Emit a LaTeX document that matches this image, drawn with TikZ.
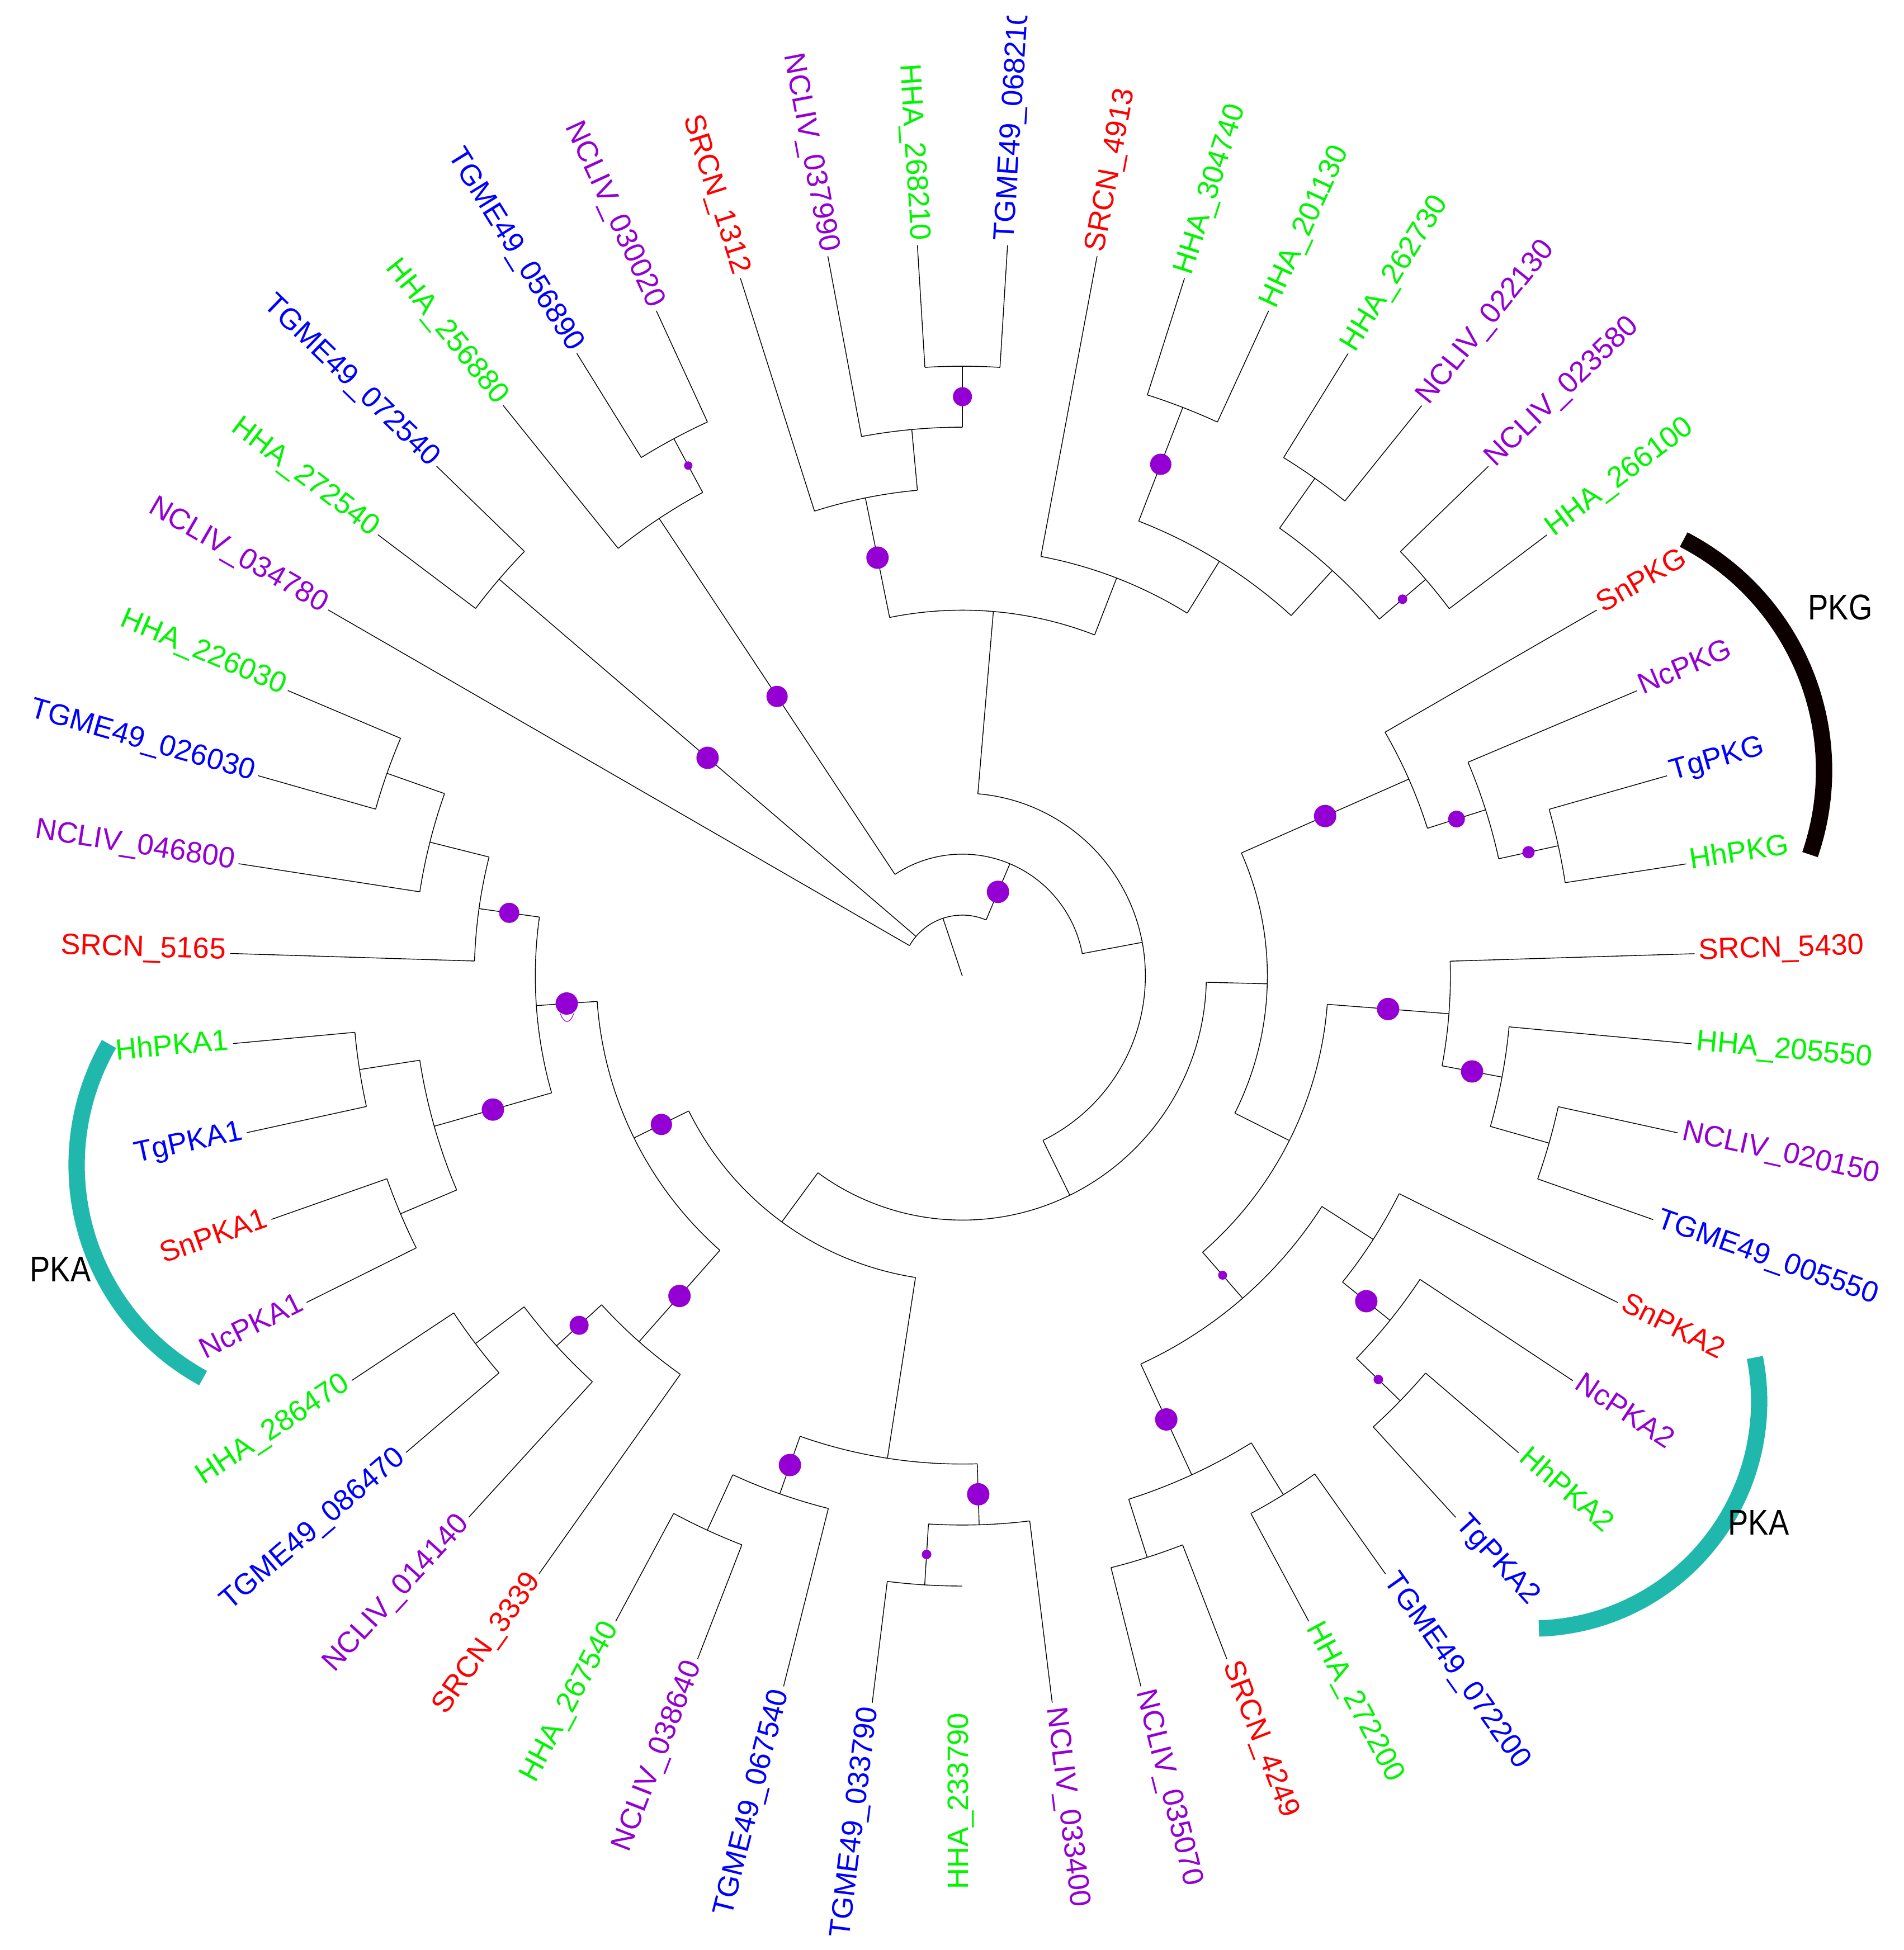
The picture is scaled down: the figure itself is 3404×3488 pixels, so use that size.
\documentclass[tikz,border=0pt]{standalone}
\usepackage{fontspec}
\setmainfont{Liberation Sans}
\definecolor{cred}{RGB}{255,0,0}
\definecolor{cgreen}{RGB}{0,245,0}
\definecolor{cpurp}{RGB}{148,0,211}
\definecolor{cblue}{RGB}{0,0,255}
\definecolor{pkateal}{RGB}{32,184,172}
\definecolor{pkgblk}{RGB}{13,0,0}
\newcommand{\ang}[1]{(93.52-7.0588*(#1))}
\newcommand{\lvl}[1]{(109.1*(#1))}
\newcommand{\Arc}[3]{\draw[br] ({\ang{#1}}:{\lvl{#3}}) arc[start angle={\ang{#1}},end angle={\ang{#2}},radius={\lvl{#3}}];}
\newcommand{\Rad}[3]{\draw[br] ({\ang{#1}}:{\lvl{#2}}) -- ({\ang{#1}}:{\lvl{#3}});}
\newcommand{\Tip}[2]{\draw[br] ({\ang{#1}}:{\lvl{#2}}) -- ({\ang{#1}}:1310);}
\newcommand{\Dot}[4]{\fill[dotc] ({\ang{#1}}:{\lvl{(#2+#3)/2}}) circle[radius=#4];}
\newcommand{\LabR}[4]{\node[lbl,text=#2,anchor=west,rotate={\ang{#1}}] (#4) at ({\ang{#1}}:1318) {#3};}
\newcommand{\LabL}[4]{\node[lbl,text=#2,anchor=east,rotate={\ang{#1}+180}] (#4) at ({\ang{#1}}:1318) {#3};}
\begin{document}
\begin{tikzpicture}[x=0.25pt,y=0.25pt,
  br/.style={black,line width=0.35pt},
  dotc/.style={fill=cpurp},
  lbl/.style={font=\fontsize{13.15}{13.15}\selectfont,inner sep=0pt,outer sep=0pt,text height=0.72em,text depth=0.2em},
  biglbl/.style={font=\fontsize{16}{16}\selectfont,inner sep=0pt,text=black},
  band/.style={line width=7.3pt}]
\useasboundingbox (-1721,-1742) rectangle (1683,1746);
\clip (-1721,-1742) rectangle (1683,1717);
% root and arc B
\Rad{-2.127}{0}{1}
\Arc{-8}{3.746}{1}
\Tip{-8}{1}
% N_72
\Rad{-6.5}{1}{10} \Arc{-7}{-6}{10} \Tip{-7}{10} \Tip{-6}{10}
% arc A
\Rad{3.746}{1}{2}
\Arc{-4.25}{11.742}{2}
% N_056
\Rad{-4.25}{2}{9} \Arc{-5}{-3.5}{9} \Tip{-5}{9}
\Rad{-3.5}{9}{10} \Arc{-4}{-3}{10} \Tip{-4}{10} \Tip{-3}{10}
% N_L3
\Rad{11.742}{2}{3}
\Arc{1.1875}{22.297}{3}
% N_top
\Rad{1.1875}{3}{6} \Arc{-1.125}{3.5}{6}
\Rad{-1.125}{6}{8} \Arc{-2}{-0.25}{8} \Tip{-2}{8}
\Rad{-0.25}{8}{9} \Arc{-1}{0.5}{9} \Tip{-1}{9}
\Rad{0.5}{9}{10} \Arc{0}{1}{10} \Tip{0}{10} \Tip{1}{10}
\Rad{3.5}{6}{7} \Arc{2}{5}{7} \Tip{2}{7}
\Rad{5}{7}{8} \Arc{3.5}{6.5}{8}
\Rad{3.5}{8}{10} \Arc{3}{4}{10} \Tip{3}{10} \Tip{4}{10}
\Rad{6.5}{8}{9} \Arc{5.5}{7.5}{9}
\Rad{5.5}{9}{10} \Arc{5}{6}{10} \Tip{5}{10} \Tip{6}{10}
\Rad{7.5}{9}{10} \Arc{7}{8}{10} \Tip{7}{10} \Tip{8}{10}
% N_L4
\Rad{22.297}{3}{4}
\Arc{13.453}{31.14}{4}
% N_R5
\Rad{13.453}{4}{5} \Arc{9.875}{17.031}{5}
\Rad{9.875}{5}{8} \Arc{9}{10.75}{8} \Tip{9}{8}
\Rad{10.75}{8}{9} \Arc{10}{11.5}{9} \Tip{10}{9}
\Rad{11.5}{9}{10} \Arc{11}{12}{10} \Tip{11}{10} \Tip{12}{10}
\Rad{17.031}{5}{6} \Arc{13.875}{20.1875}{6}
\Rad{13.875}{6}{8} \Arc{13}{14.75}{8} \Tip{13}{8}
\Rad{14.75}{8}{9} \Arc{14}{15.5}{9} \Tip{14}{9}
\Rad{15.5}{9}{10} \Arc{15}{16}{10} \Tip{15}{10} \Tip{16}{10}
\Rad{20.1875}{6}{7} \Arc{17.875}{22.5}{7}
\Rad{17.875}{7}{8} \Arc{17}{18.75}{8} \Tip{17}{8}
\Rad{18.75}{8}{9} \Arc{18}{19.5}{9} \Tip{18}{9}
\Rad{19.5}{9}{10} \Arc{19}{20}{10} \Tip{19}{10} \Tip{20}{10}
\Rad{22.5}{7}{9} \Arc{21.5}{23.5}{9}
\Rad{21.5}{9}{10} \Arc{21}{22}{10} \Tip{21}{10} \Tip{22}{10}
\Rad{23.5}{9}{10} \Arc{23}{24}{10} \Tip{23}{10} \Tip{24}{10}
% N_L5
\Rad{31.14}{4}{5} \Arc{27.25}{35.031}{5}
\Rad{27.25}{5}{8} \Arc{25.75}{28.75}{8}
\Rad{25.75}{8}{9} \Arc{25}{26.5}{9} \Tip{25}{9}
\Rad{26.5}{9}{10} \Arc{26}{27}{10} \Tip{27}{10}
\Rad{28.75}{8}{9} \Arc{28}{29.5}{9} \Tip{28}{9}
\Rad{29.5}{9}{10} \Arc{29}{30}{10} \Tip{29}{10} \Tip{30}{10}
\Rad{35.031}{5}{6} \Arc{31.875}{38.1875}{6}
\Rad{31.875}{6}{8} \Arc{31}{32.75}{8} \Tip{31}{8}
\Rad{32.75}{8}{9} \Arc{32}{33.5}{9} \Tip{32}{9}
\Rad{33.5}{9}{10} \Arc{33}{34}{10} \Tip{33}{10} \Tip{34}{10}
\Rad{38.1875}{6}{7} \Arc{36.5}{39.875}{7}
\Rad{36.5}{7}{9} \Arc{35.5}{37.5}{9}
\Rad{35.5}{9}{10} \Arc{35}{36}{10} \Tip{35}{10} \Tip{36}{10}
\Rad{37.5}{9}{10} \Arc{37}{38}{10} \Tip{37}{10} \Tip{38}{10}
\Rad{39.875}{7}{8} \Arc{39}{40.75}{8} \Tip{39}{8}
\Rad{40.75}{8}{9} \Arc{40}{41.5}{9} \Tip{40}{9}
\Rad{41.5}{9}{10} \Arc{41}{42}{10} \Tip{41}{10} \Tip{42}{10}
% support dots
\Dot{-6.5}{1}{10}{20}
\Dot{3.746}{1}{2}{20}
\Dot{-4.25}{2}{9}{19}
\Dot{-3.5}{9}{10}{7.5}
\Dot{-1.125}{6}{8}{20}
\Dot{0.5}{9}{10}{17}
\Dot{3.5}{8}{10}{19}
\Dot{7.5}{9}{10}{8.5}
\Dot{9.875}{5}{8}{20}
\Dot{10.75}{8}{9}{15}
\Dot{11.5}{9}{10}{11}
\Dot{13.875}{6}{8}{20}
\Dot{14.75}{8}{9}{20}
\Dot{20.1875}{6}{7}{8}
\Dot{18.75}{8}{9}{20}
\Dot{19.5}{9}{10}{8.5}
\Dot{22.5}{7}{9}{20}
\Dot{25.75}{8}{9}{20}
\Dot{26.5}{9}{10}{8.5}
\Dot{28.75}{8}{9}{20}
\Dot{31.875}{6}{8}{20}
\Dot{32.75}{8}{9}{17}
\Dot{35.031}{5}{6}{19}
\Dot{38.1875}{6}{7}{20}
\Dot{36.5}{7}{9}{20}
\Dot{39.875}{7}{8}{18}
\draw[cpurp,line width=0.3pt] (-719,-67) .. controls (-712,-86) and (-702,-86) .. (-695,-67);
% labels right side
\LabR{1}{cblue}{TGME49\_068210}{n1}
\LabR{2}{cred}{SRCN\_4913}{n2}
\LabR{3}{cgreen}{HHA\_304740}{n3}
\LabR{4}{cgreen}{HHA\_201130}{n4}
\LabR{5}{cgreen}{HHA\_262730}{n5}
\LabR{6}{cpurp}{NCLIV\_022130}{n6}
\LabR{7}{cpurp}{NCLIV\_023580}{n7}
\LabR{8}{cgreen}{HHA\_266100}{n8}
\LabR{9}{cred}{SnPKG}{n9}
\LabR{10}{cpurp}{NcPKG}{n10}
\LabR{11}{cblue}{TgPKG}{n11}
\LabR{12}{cgreen}{HhPKG}{n12}
\LabR{13}{cred}{SRCN\_5430}{n13}
\LabR{14}{cgreen}{HHA\_205550}{n14}
\LabR{15}{cpurp}{NCLIV\_020150}{n15}
\LabR{16}{cblue}{TGME49\_005550}{n16}
\LabR{17}{cred}{SnPKA2}{n17}
\LabR{18}{cpurp}{NcPKA2}{n18}
\LabR{19}{cgreen}{HhPKA2}{n19}
\LabR{20}{cblue}{TgPKA2}{n20}
\LabR{21}{cblue}{TGME49\_072200}{n21}
\LabR{22}{cgreen}{HHA\_272200}{n22}
\LabR{23}{cred}{SRCN\_4249}{n23}
\LabR{24}{cpurp}{NCLIV\_035070}{n24}
\LabR{25}{cpurp}{NCLIV\_033400}{n25}
% labels left side
\LabL{0}{cgreen}{HHA\_268210}{n0}
\LabL{26}{cgreen}{HHA\_233790}{n26}
\LabL{27}{cblue}{TGME49\_033790}{n27}
\LabL{28}{cblue}{TGME49\_067540}{n28}
\LabL{29}{cpurp}{NCLIV\_038640}{n29}
\LabL{30}{cgreen}{HHA\_267540}{n30}
\LabL{31}{cred}{SRCN\_3339}{n31}
\LabL{32}{cpurp}{NCLIV\_014140}{n32}
\LabL{33}{cblue}{TGME49\_086470}{n33}
\LabL{34}{cgreen}{HHA\_286470}{n34}
\LabL{35}{cpurp}{NcPKA1}{n35}
\LabL{36}{cred}{SnPKA1}{n36}
\LabL{37}{cblue}{TgPKA1}{n37}
\LabL{38}{cgreen}{HhPKA1}{n38}
\LabL{39}{cred}{SRCN\_5165}{n39}
\LabL{40}{cpurp}{NCLIV\_046800}{n40}
\LabL{41}{cblue}{TGME49\_026030}{n41}
\LabL{42}{cgreen}{HHA\_226030}{n42}
\LabL{-8}{cpurp}{NCLIV\_034780}{n43}
\LabL{-7}{cgreen}{HHA\_272540}{n44}
\LabL{-6}{cblue}{TGME49\_072540}{n45}
\LabL{-5}{cgreen}{HHA\_256880}{n46}
\LabL{-4}{cblue}{TGME49\_056890}{n47}
\LabL{-3}{cpurp}{NCLIV\_030020}{n48}
\LabL{-2}{cred}{SRCN\_1312}{n49}
\LabL{-1}{cpurp}{NCLIV\_037990}{n50}
% group bands
\draw[band,pkgblk] (1076,368) ++(62.6:465) arc[start angle=62.6,end angle=-18.9,radius=465];
\draw[band,pkateal] (1019,-761) ++(11.2:406) arc[start angle=11.2,end angle=-88.3,radius=406];
\draw[band,pkateal] (-1150,-338) ++(150.05:434) arc[start angle=150.05,end angle=241.4,radius=434];
\node[biglbl] (pkg) at (1570,660) {\scalebox{0.85}[1]{PKG}};
\node[biglbl] (pkar) at (1424,-977) {\scalebox{0.85}[1]{PKA}};
\node[biglbl] (pkal) at (-1613,-524) {\scalebox{0.85}[1]{PKA}};
\end{tikzpicture}
\end{document}
